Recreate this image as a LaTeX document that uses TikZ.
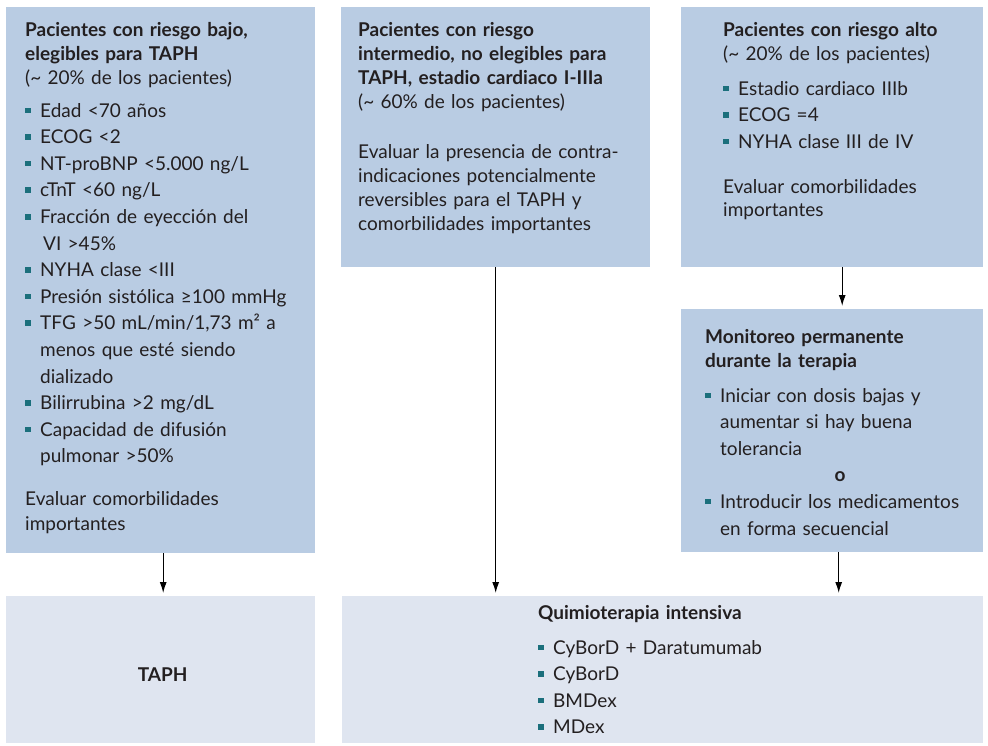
\documentclass[tikz,border=0pt]{standalone}
\usepackage{fontspec}
\setmainfont{Lato}
\usepackage{tikz}
\usetikzlibrary{arrows.meta,positioning,calc}

\definecolor{boxdark}{HTML}{B9CCE3}
\definecolor{boxlight}{HTML}{DFE5F0}
\definecolor{bulteal}{HTML}{1B6F7C}
\definecolor{txtc}{HTML}{231F20}

\newcommand{\sqb}{\textcolor{bulteal}{\rule[4pt]{5.5pt}{5.5pt}}}
\newcommand{\itm}[1]{\par\hangindent=15pt\hangafter=1\noindent\makebox[15pt][l]{\sqb}#1}

\begin{document}
\begin{tikzpicture}[x=1pt,y=-1pt,
                    dbox/.style={fill=boxdark, inner sep=0pt, anchor=north west},
                    lbox/.style={fill=boxlight, inner sep=0pt, anchor=north west},
                    txt/.style={anchor=base west, inner sep=0pt, align=left, text=txtc,
                                font=\fontsize{19}{24}\selectfont},
                    arr/.style={-{Latex[length=11pt,width=7pt]}, line width=1.2pt,
                                shorten >=3pt}]
    \useasboundingbox (0,0) rectangle (988,745);

    % boxes
    \node[dbox, minimum width=309pt, minimum height=546pt] (lowBox) at (6,7) {};
    \node[dbox, minimum width=309pt, minimum height=260pt] (midBox) at (341,7) {};
    \node[dbox, minimum width=302pt, minimum height=260pt] (highBox) at (681,7) {};
    \node[dbox, minimum width=302pt, minimum height=243pt] (monBox) at (681,309) {};
    \node[lbox, minimum width=309pt, minimum height=147pt] (taphBox) at (6,596) {};
    \node[lbox, minimum width=641pt, minimum height=147pt] (chemoBox) at (342,596) {};

    % low risk
    \node[txt, text width=290pt] (lowTxt) at (25,36) {%
        {\bfseries Pacientes con riesgo bajo,\\elegibles para TAPH}\par
        (\textasciitilde{} 20\% de los pacientes)\par
        \vspace{6.5pt}\fontsize{19}{26.6}\selectfont
        \itm{Edad <70 años}
        \itm{ECOG <2}
        \itm{NT-proBNP <5.000 ng/L}
        \itm{cTnT <60 ng/L}
        \itm{Fracción de eyección del\newline\hspace*{3pt}VI >45\%}
        \itm{NYHA clase <III}
        \itm{Presión sistólica ≥100 mmHg}
        \itm{TFG >50 mL/min/1,73 m² a\newline menos que esté siendo\newline dializado}
        \itm{Bilirrubina >2 mg/dL}
        \itm{Capacidad de difusión\newline pulmonar >50\%}\par
        \vspace{18pt}\fontsize{19}{25}\selectfont
        Evaluar comorbilidades\\importantes\par};

    % intermediate risk
    \node[txt, text width=300pt] (midTxt) at (358,36) {%
        {\bfseries Pacientes con riesgo\\intermedio, no elegibles para\\TAPH, estadio cardiaco I-IIIa}\par
        (\textasciitilde{} 60\% de los pacientes)\par
        \vspace{26pt}
        Evaluar la presencia de contra-\\indicaciones potencialmente\\reversibles para el TAPH y\\comorbilidades importantes\par};

    % high risk
    \node[txt, text width=255pt] (highTxt) at (723,36) {%
        {\bfseries Pacientes con riesgo alto}\par
        (\textasciitilde{} 20\% de los pacientes)\par
        \vspace{8.5pt}\fontsize{19}{26.6}\selectfont
        \itm{Estadio cardiaco IIIb}
        \itm{ECOG =4}
        \itm{NYHA clase III de IV}\par
        \vspace{22pt}\fontsize{19}{23}\selectfont
        Evaluar comorbilidades\\importantes\par};

    % monitoring
    \node[txt, text width=275pt] (monTxt) at (705,343) {%
        {\bfseries Monitoreo permanente\\durante la terapia}\par
        \vspace{8.4pt}\fontsize{19}{26.6}\selectfont
        \itm{Iniciar con dosis bajas y\newline aumentar si hay buena\newline tolerancia}\par
        \noindent\makebox[270pt][c]{\bfseries o}\par
        \itm{Introducir los medicamentos\newline en forma secuencial}\par};

    % outcomes
    \node[txt, anchor=center, font=\fontsize{19}{24}\bfseries\selectfont]
        (taphTxt) at ($(taphBox.center)+(2,5)$) {TAPH};
    \node[txt, text width=300pt] (chemoTxt) at (538,619) {%
        {\bfseries Quimioterapia intensiva}\par
        \vspace{8.5pt}\fontsize{19}{26.5}\selectfont
        \itm{CyBorD + Daratumumab}
        \itm{CyBorD}
        \itm{BMDex}
        \itm{MDex}\par};

    % arrows
    \draw[arr] ([xshift=2.5pt]lowBox.south) -- ([xshift=2.5pt]lowBox.south |- taphBox.north);
    \draw[arr] (midBox.south) -- (midBox.south |- chemoBox.north);
    \draw[arr] ([xshift=10pt]highBox.south) -- ([xshift=10pt]highBox.south |- monBox.north);
    \draw[arr] ([xshift=6.5pt]monBox.south) -- ([xshift=6.5pt]monBox.south |- chemoBox.north);
\end{tikzpicture}
\end{document}
